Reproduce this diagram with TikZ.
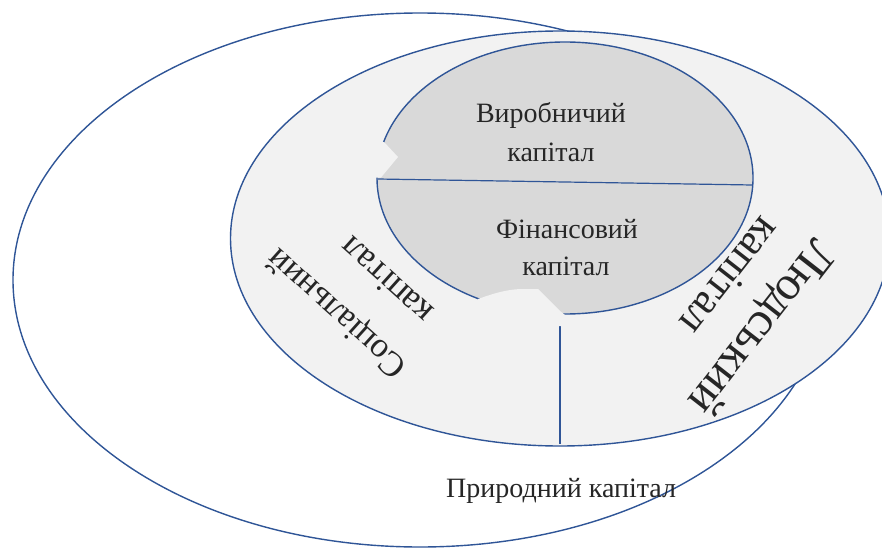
\documentclass[tikz,border=0pt]{standalone}
\usepackage{fontspec}
\setmainfont{Liberation Serif}
\definecolor{edge}{RGB}{47,85,151}
\definecolor{ringfill}{RGB}{242,242,242}
\definecolor{corefill}{RGB}{217,217,217}
\tikzset{
  ring/.style={draw=edge, line width=1.4pt},
  divider/.style={draw=edge, line width=1.2pt},
  lbl/.style={inner sep=0pt, text=black!85},
}
\newcommand{\fs}[1]{\fontsize{#1}{#1}\selectfont}
\begin{document}
\begin{tikzpicture}[x=1pt, y=-1pt]
\useasboundingbox (0,0) rectangle (882,548);
% outer ellipse: natural capital
\draw[ring, fill=white] (420,280) ellipse [x radius=407, y radius=267];
% middle ellipse
\draw[ring, fill=ringfill] (560,238.5) ellipse [x radius=329.5, y radius=207.5];
% inner ellipse
\draw[ring, fill=corefill] (565,178) ellipse [x radius=188, y radius=136];
% divider lines
\coordinate (hl) at (377.5,179);
\coordinate (hr) at (752.5,185);
\draw[divider] (hl) -- (hr);
\coordinate (vt) at (560,317);
\coordinate (vb) at (560,444);
\draw[divider] (vt) -- (vb);
% notches covering the core
\fill[ringfill] (384,142) -- (398,157) -- (381,177.5) -- (368,177.5) -- (368,142) -- cycle;
\fill[ringfill] (478,299) .. controls (495,293) and (505,290) .. (520,289) -- (538,289) -- (560,311) -- (565,315) -- (565,326) -- (478,326) -- cycle;
% labels
\node[lbl, anchor=base, font=\fs{28}] (v1) at (551,123) {Виробничий};
\node[lbl, anchor=base, font=\fs{28}] (v2) at (551,161) {капітал};
\node[lbl, anchor=base, font=\fs{28}] (f1) at (567,238) {Фінансовий};
\node[lbl, anchor=base, font=\fs{28}] (f2) at (566,275) {капітал};
\node[lbl, anchor=base west, font=\fs{28}] (p1) at (446,497) {Природний капітал};
\node[lbl, rotate=138, font=\fs{35}] (s1) at (338,312) {Соціальний};
\node[lbl, rotate=138, font=\fs{36}] (s2) at (386,281) {капітал};
\node[lbl, rotate=232, font=\fs{44}] (l2) at (731,277) {капітал};
\node[lbl, rotate=232, font=\fs{48}] (l1) at (760,326) {Людський};
\end{tikzpicture}
\end{document}
